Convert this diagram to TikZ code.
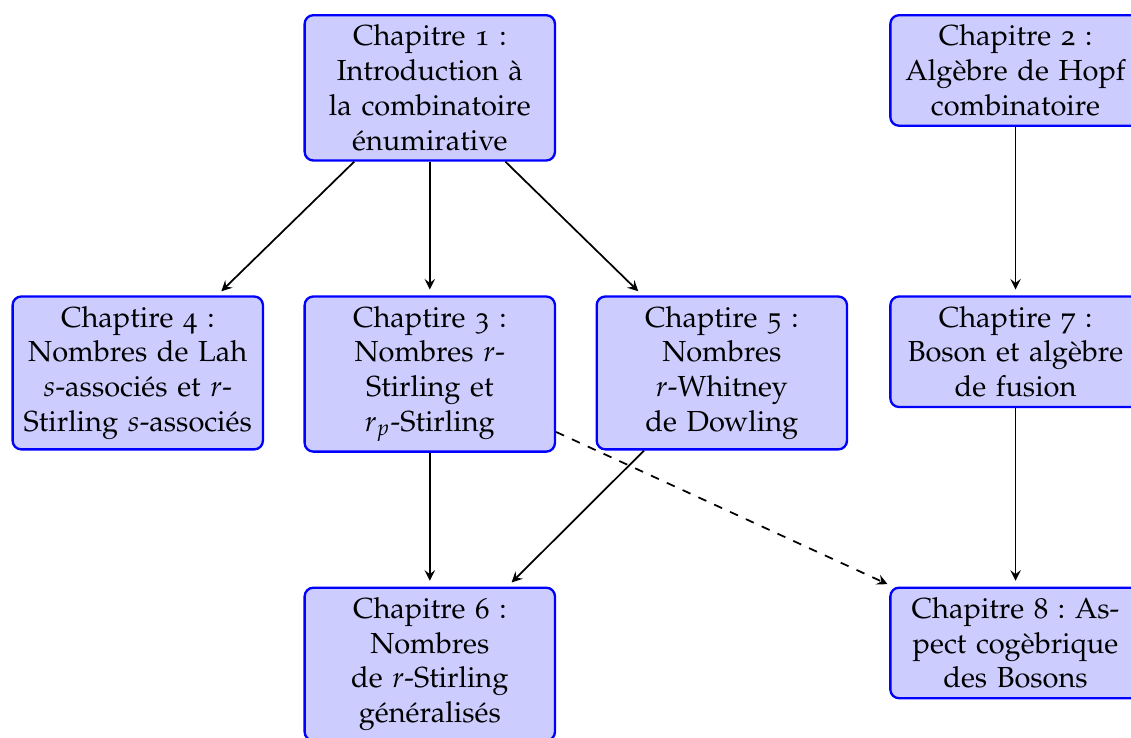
\documentclass[tikz,border=0pt]{standalone}
\usepackage[T1]{fontenc}
\usepackage[osf]{mathpazo}
\usepackage{tikz}
\usetikzlibrary{arrows}
\frenchspacing

\begin{document}
\begin{tikzpicture}[%
      chap/.style={draw=blue, thick, fill=blue!20, rounded corners=3pt,
        text width=2.8cm, align=center, anchor=north},
      lien/.style={->, >=stealth, semithick, shorten >=2pt},
      ]
      \useasboundingbox (0,0) rectangle (13.71,-8.945);

      \node [chap] (ch1) at (5.21,-0.17) {Chapitre 1 :\\Introduction à\\la combinatoire\\énumirative};
      \node [chap] (ch2) at (12.31,-0.17) {Chapitre 2 :\\Algèbre de Hopf\\combinatoire};

      \node [chap] (ch4) at (1.67,-3.58) {Chaptire 4 :\\Nombres de Lah\\$s$-associés et $r$-\\Stirling $s$-associés};
      \node [chap] (ch3) at (5.21,-3.58) {Chaptire 3 :\\Nombres $r$-\\Stirling et\\$r_p$-Stirling};
      \node [chap] (ch5) at (8.75,-3.58) {Chaptire 5 :\\Nombres\\$r$-Whitney\\de Dowling};
      \node [chap] (ch7) at (12.31,-3.58) {Chaptire 7 :\\Boson et algèbre\\de fusion};

      \node [chap] (ch6) at (5.21,-7.11) {Chapitre 6 :\\Nombres\\de $r$-Stirling\\généralisés};
      \node [chap] (ch8) at (12.31,-7.11) {Chapitre 8 : As-\\pect cogèbrique\\des Bosons};

      \draw [lien] (ch1) -- (ch4);
      \draw [lien] (ch1) -- (ch3);
      \draw [lien] (ch1) -- (ch5);
      \draw [lien] (ch2) -- (ch7);
      \draw [lien] (ch3) -- (ch6);
      \draw [lien] (ch5) -- (ch6);
      \draw [lien] (ch7) -- (ch8);
      \draw [lien, dashed] (ch3) -- (ch8);
\end{tikzpicture}
\end{document}
